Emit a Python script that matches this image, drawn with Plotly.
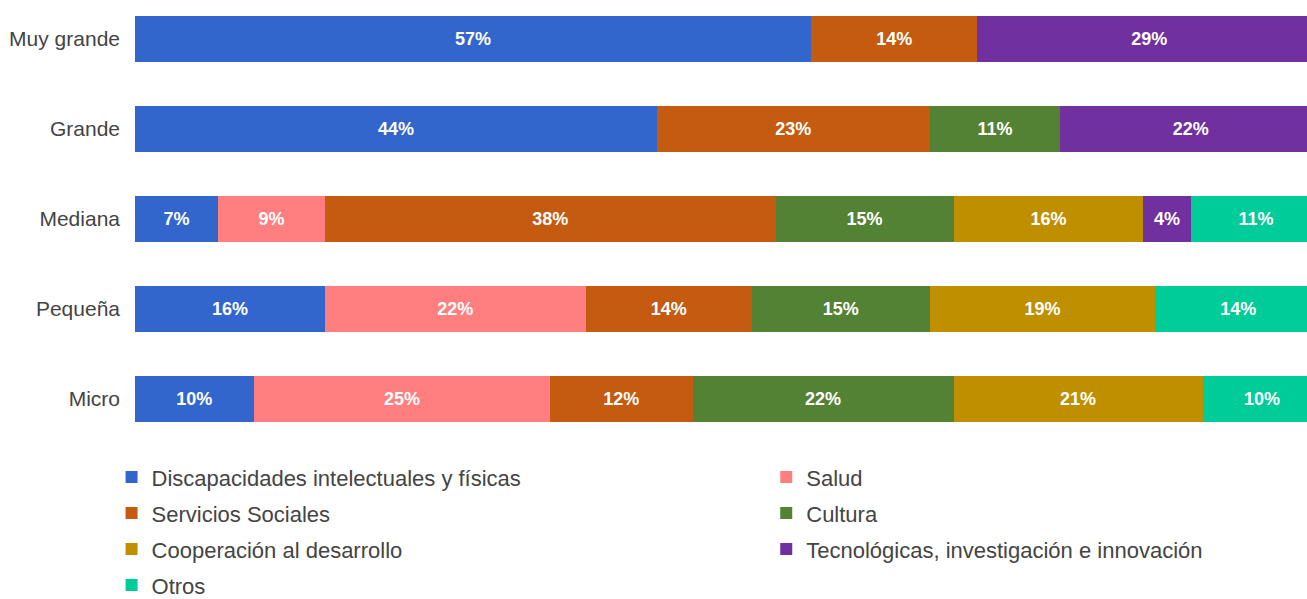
import plotly.graph_objects as go

categories = ["Micro", "Pequeña", "Mediana", "Grande", "Muy grande"]

series_names = [
    "Discapacidades intelectuales y físicas",
    "Salud",
    "Servicios Sociales",
    "Cultura",
    "Cooperación al desarrollo",
    "Tecnológicas, investigación e innovación",
    "Otros",
]

# values per category (order: Micro, Pequeña, Mediana, Grande, Muy grande)
discapacidades = [10, 16, 7, 44, 57]
salud = [25, 22, 9, 0, 0]
servicios = [12, 14, 38, 23, 14]
cultura = [22, 15, 15, 11, 0]
cooperacion = [21, 19, 16, 0, 0]
tecnologicas = [0, 0, 4, 22, 29]
otros = [10, 14, 11, 0, 0]

series_values = [discapacidades, salud, servicios, cultura, cooperacion, tecnologicas, otros]
colors = ["#3366CC", "#FF7F80", "#C55A11", "#548235", "#BF8F00", "#7030A0", "#00CC99"]
legend_ids = ["legend", "legend2", "legend", "legend2", "legend", "legend2", "legend"]

fig = go.Figure()
for name, vals, col, lg in zip(series_names, series_values, colors, legend_ids):
    fig.add_trace(go.Bar(
        y=categories,
        x=[v if v else None for v in vals],
        name=name,
        orientation="h",
        marker=dict(color=col, line=dict(width=0)),
        text=[f"{v}%" if v else "" for v in vals],
        textposition="inside",
        insidetextanchor="middle",
        textangle=0,
        textfont=dict(family="Liberation Sans", size=18, color="white", weight="bold"),
        legend=lg,
        legendgroup=name,
        hoverinfo="skip",
    ))

legend_font = dict(family="Liberation Sans", size=22, color="#444444")
fig.update_layout(
    width=1307,
    height=599,
    barmode="stack",
    bargap=0.489,
    plot_bgcolor="white",
    paper_bgcolor="white",
    margin=dict(l=135, r=0, t=0, b=155, autoexpand=False),
    font=dict(family="Liberation Sans", color="#444444"),
    xaxis=dict(range=[0, 98.8], showgrid=False, zeroline=False, showticklabels=False,
               showline=False, fixedrange=True),
    yaxis=dict(type="category", categoryorder="array", categoryarray=categories,
               range=[-0.5, 4.4333], showgrid=False, zeroline=False, showline=False,
               ticks="", ticklabelstandoff=14, fixedrange=True,
               tickfont=dict(family="Liberation Sans", size=21, color="#444444")),
    legend=dict(x=-0.02, xanchor="left", y=-0.0275, yanchor="top", orientation="v",
                font=legend_font, tracegroupgap=4.4, traceorder="grouped", maxheight=300,
                bgcolor="rgba(0,0,0,0)", itemclick=False, itemdoubleclick=False),
    legend2=dict(x=0.5386, xanchor="left", y=-0.0275, yanchor="top", orientation="v",
                 font=legend_font, tracegroupgap=4.4, traceorder="grouped", maxheight=300,
                 bgcolor="rgba(0,0,0,0)", itemclick=False, itemdoubleclick=False),
    showlegend=True,
)

fig.write_html(
    "out.html",
    config={"displayModeBar": False},
    post_script="document.body.style.margin='0';document.body.style.padding='0';",
)
